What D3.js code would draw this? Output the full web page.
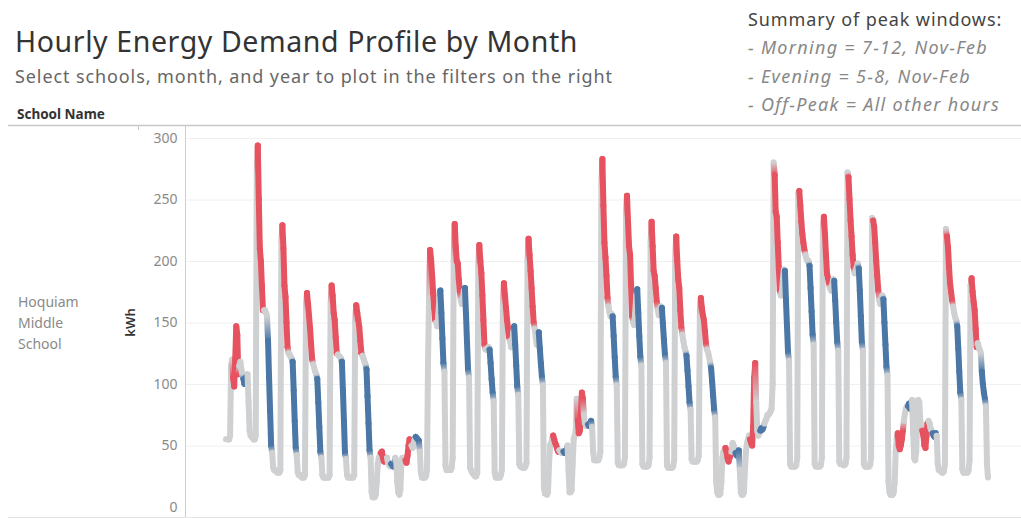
<!DOCTYPE html>
<html>
<head>
<meta charset="utf-8">
<script src="https://cdn.jsdelivr.net/npm/d3@7/dist/d3.min.js"></script>
<style>
  body { margin: 0; background: #fff; }
  svg { display: block; font-family: "Noto Sans", "Open Sans", sans-serif; }
</style>
</head>
<body>
<svg id="chart" width="1021" height="518"></svg>
<script>
// hourly kWh, one row per day of the month (hour 0..23)
var kwhByDay = [
  [55,55,55,55,58,115,120,105,98,120,147,140,108,115,118,112,108,104,100,102,106,108,85,62],
  [58,57,56,55,55,58,270,294,250,210,200,180,160,160,160,158,155,135,105,78,50,44,32,30],
  [30,29,28,28,28,30,215,229,210,180,171,150,130,125,124,122,121,118,95,70,48,42,28,26],
  [26,25,24,24,24,26,160,174,165,155,145,132,120,116,113,110,108,104,85,65,45,40,26,24],
  [24,24,24,24,24,26,165,180,172,158,152,138,125,124,123,122,121,118,95,70,44,39,26,24],
  [24,24,24,24,24,26,150,164,158,152,146,135,125,123,121,118,116,112,90,68,46,40,12,8],
  [8,8,10,20,35,40,42,44,45,40,37,38,40,40,36,34,33,35,34,33,35,40,38,20],
  [12,10,14,35,40,38,38,38,36,42,50,55,52,50,48,52,55,57,56,55,54,45,28,24],
  [24,24,24,25,30,120,170,209,201,188,174,162,152,150,147,156,170,176,158,137,117,110,34,30],
  [30,30,30,30,32,40,200,230,212,200,198,185,175,168,165,168,176,178,157,134,112,105,32,30],
  [28,27,26,25,25,28,195,213,200,190,172,152,132,128,128,129,130,128,117,104,93,86,28,24],
  [24,24,24,24,26,30,165,182,172,162,152,145,138,135,130,133,142,147,132,115,98,91,35,33],
  [33,32,32,32,33,36,200,218,205,192,178,163,150,145,138,132,140,142,129,117,106,99,16,11],
  [11,10,12,35,50,52,55,58,55,52,50,47,45,46,45,44,44,45,44,44,47,50,30,12],
  [12,14,35,55,58,62,88,70,60,62,75,93,88,75,68,66,66,67,66,68,70,65,45,38],
  [38,38,38,38,40,45,260,283,245,215,203,188,170,163,158,155,157,155,139,122,106,99,36,34],
  [34,34,34,34,35,40,235,253,232,212,205,180,155,150,148,158,172,177,158,139,122,115,35,33],
  [33,33,33,33,34,40,215,232,212,192,188,178,167,160,156,158,163,162,149,136,124,117,34,32],
  [32,32,32,32,33,38,200,220,200,185,178,160,146,140,135,130,127,123,111,98,85,79,39,37],
  [37,37,37,37,38,42,155,170,162,156,152,143,133,128,126,122,118,113,102,90,79,73,20,12],
  [10,10,11,20,40,45,45,48,45,40,37,40,42,45,52,50,46,44,42,43,46,30,12,10],
  [10,12,30,45,52,55,58,55,52,50,65,105,117,85,62,58,60,62,64,63,65,68,70,72],
  [75,75,76,78,80,100,280,270,240,236,215,195,176,172,175,185,193,192,168,147,126,119,35,33],
  [33,33,33,33,34,40,255,257,245,232,222,215,209,205,202,200,200,196,178,159,140,132,35,33],
  [33,33,33,33,34,40,225,236,222,205,190,186,182,178,176,180,185,184,168,150,134,127,37,35],
  [35,35,34,34,35,40,272,268,250,233,220,205,195,190,192,195,198,194,176,155,134,127,35,33],
  [33,33,33,33,34,40,235,233,228,215,200,188,176,168,165,168,172,169,150,132,114,107,20,12],
  [10,10,10,12,20,45,55,60,50,47,50,55,62,70,76,80,82,82,84,80,83,87,60,40],
  [38,45,70,87,85,70,65,62,58,50,48,58,68,70,68,64,62,60,58,57,60,58,35,30],
  [30,29,28,28,29,35,226,220,211,195,182,175,168,163,158,154,152,147,129,110,93,87,31,28],
  [28,28,28,28,30,38,180,186,175,167,160,145,130,133,130,128,125,110,100,93,88,82,35,24]
];
var morningHours = [7, 8, 9, 10, 11, 12];
var eveningHours = [17, 18, 19, 20];
var categories = ["Morning", "Evening", "Off-Peak"];
var catColors = ["#e6525f", "#4a77a6", "#cfd0d2"];
var yTicks = [0, 50, 100, 150, 200, 250, 300];
var schoolName = ["Hoquiam", "Middle", "School"];
var summaryLines = ["- Morning = 7-12, Nov-Feb", "- Evening = 5-8, Nov-Feb", "- Off-Peak = All other hours"];

function peakWindow(h) {
    if (morningHours.indexOf(h) >= 0) return "Morning";
    if (eveningHours.indexOf(h) >= 0) return "Evening";
    return "Off-Peak";
}

var points = [];
kwhByDay.forEach(function(day, d) {
    day.forEach(function(v, h) {
        points.push({t: d * 24 + h, h: h, v: v, cat: peakWindow(h)});
    });
});

var svg = d3.select("#chart");
var color = d3.scaleOrdinal().domain(categories).range(catColors);

var x = d3.scaleLinear()
    .domain([0, points.length - 1])
    .range([226, 988]);
var y = d3.scaleLinear()
    .domain([0, 300])
    .range([507, 138]);

// titles
svg.append("text").attr("x", 15).attr("y", 52)
    .style("font-size", "28.5px").style("letter-spacing", "0.6px").style("fill", "#333")
    .text("Hourly Energy Demand Profile by Month");
svg.append("text").attr("x", 15).attr("y", 83)
    .style("font-size", "18px").style("letter-spacing", "0.9px").style("fill", "#666")
    .text("Select schools, month, and year to plot in the filters on the right");

svg.append("text").attr("x", 748).attr("y", 26)
    .style("font-size", "18px").style("letter-spacing", "0.9px").style("fill", "#444")
    .text("Summary of peak windows:");
svg.selectAll(".summary")
    .data(summaryLines)
    .enter().append("text")
    .attr("class", "summary")
    .attr("x", 748)
    .attr("y", function(d, i) { return 54 + i * 28.5; })
    .style("font-size", "18px").style("letter-spacing", "1.3px")
    .style("font-style", "italic").style("fill", "#888")
    .text(function(d) { return d; });

svg.append("text").attr("x", 17).attr("y", 119)
    .style("font-size", "13.5px").style("font-weight", "bold").style("fill", "#333")
    .text("School Name");

// frame
svg.append("line").attr("x1", 8).attr("x2", 1021).attr("y1", 125.5).attr("y2", 125.5)
    .style("stroke", "#c8c8c8").style("stroke-width", 1.5);
svg.append("line").attr("x1", 8).attr("x2", 1021).attr("y1", 517.5).attr("y2", 517.5)
    .style("stroke", "#e4e4e4");
svg.append("line").attr("x1", 138.5).attr("x2", 138.5).attr("y1", 125).attr("y2", 130)
    .style("stroke", "#c8c8c8");

// gridlines
svg.append("g")
    .selectAll("line")
    .data(yTicks.slice(1))
    .enter().append("line")
    .attr("x1", 186).attr("x2", 1021)
    .attr("y1", function(d) { return y(d) + 0.5; })
    .attr("y2", function(d) { return y(d) + 0.5; })
    .style("stroke", "#f0f0f0");

// y axis
var yAxis = svg.append("g")
    .attr("transform", "translate(185.5,0)")
    .call(d3.axisLeft(y).tickValues(yTicks).tickSize(0).tickPadding(8));
yAxis.select(".domain").remove();
yAxis.selectAll("text")
    .style("font-family", "\"Noto Sans\", sans-serif")
    .style("font-size", "14px").style("fill", "#8a8a8a");
svg.append("line").attr("x1", 185.5).attr("x2", 185.5).attr("y1", 126).attr("y2", 517)
    .style("stroke", "#cfcfcf");

svg.append("text")
    .attr("transform", "translate(135," + y(150) + ") rotate(-90)")
    .style("text-anchor", "middle")
    .style("font-size", "13px").style("font-weight", "600").style("fill", "#333")
    .text("kWh");

svg.selectAll(".rowlabel")
    .data(schoolName)
    .enter().append("text")
    .attr("class", "rowlabel")
    .attr("x", 18)
    .attr("y", function(d, i) { return 307 + i * 21; })
    .style("font-size", "14px").style("fill", "#8a8a8a")
    .text(function(d) { return d; });

// line, one segment per hour, fading colour where the peak window changes
var defs = svg.append("defs");
var segs = d3.pairs(points);
var lines = svg.append("g").attr("class", "line");
segs.forEach(function(s, i) {
    var a = s[0], b = s[1];
    var stroke;
    if (a.cat == b.cat) {
        stroke = color(a.cat);
    } else {
        var g = defs.append("linearGradient")
            .attr("id", "g" + i)
            .attr("gradientUnits", "userSpaceOnUse")
            .attr("x1", x(a.t)).attr("y1", y(a.v))
            .attr("x2", x(b.t)).attr("y2", y(b.v));
        g.append("stop").attr("offset", "0%").attr("stop-color", color(a.cat));
        g.append("stop").attr("offset", "100%").attr("stop-color", color(b.cat));
        stroke = "url(#g" + i + ")";
    }
    lines.append("line")
        .attr("x1", x(a.t)).attr("y1", y(a.v))
        .attr("x2", x(b.t) + (a.v == b.v ? 0.01 : 0)).attr("y2", y(b.v) + 0.01)
        .style("stroke", stroke)
        .style("stroke-width", 6)
        .style("stroke-linecap", "round");
});
</script>
</body>
</html>
